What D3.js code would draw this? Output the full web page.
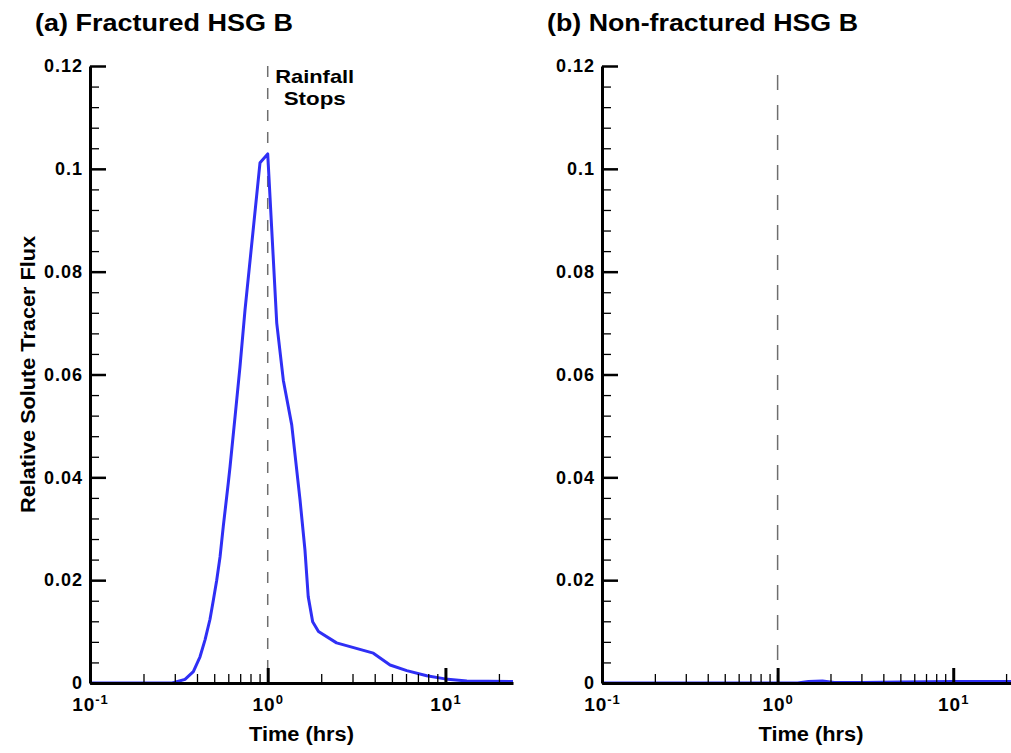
<!DOCTYPE html>
<html>
<head>
<meta charset="utf-8">
<script src="https://cdn.jsdelivr.net/npm/d3@7"></script>
<style>
  body { margin: 0; background: #fff; overflow: hidden; }
  svg text { font-family: "Liberation Sans", Arial, sans-serif; font-weight: bold; fill: #000; }
</style>
</head>
<body>
<div id="chart"></div>
<script>
// values
const panelTitles = ['(a) Fractured HSG B', '(b) Non-fractured HSG B'];

const timeA = [0.1, 0.2, 0.29, 0.3075, 0.3424, 0.3815, 0.4159, 0.4439, 0.4734, 0.4943, 0.5164,
  0.5391, 0.5625, 0.6003, 0.614, 0.655, 0.698, 0.745, 0.905, 1.0, 1.124, 1.224, 1.365, 1.52, 1.62,
  1.69, 1.79, 1.93, 2.44, 3.93, 4.88, 6.06, 7.85, 9.95, 13.2, 24];
const fluxA = [0, 0, 0, 0.00025, 0.0007, 0.0022, 0.0051, 0.0084, 0.0124, 0.0161, 0.0200,
  0.0245, 0.0305, 0.0390, 0.0421, 0.0518, 0.0615, 0.0725, 0.1012, 0.1029, 0.070, 0.0589, 0.0502, 0.0356, 0.0259,
  0.0168, 0.0119, 0.0100, 0.0078, 0.0058, 0.0035, 0.0024, 0.0014, 0.0008, 0.0004, 0.0003];

const timeB = [0.1, 0.5, 1.3, 1.5, 1.8, 2.1, 3, 5, 10, 24];
const fluxB = [0, 0, 0, 0.0003, 0.0004, 0.0001, 0.0001, 0.0002, 0.0003, 0.0003];

const yMajor = [0, 0.02, 0.04, 0.06, 0.08, 0.1, 0.12];
const yTickLabels = ['0', '0.02', '0.04', '0.06', '0.08', '0.1', '0.12'];
const xMajor = [0.1, 1, 10];
const xTickExp = ['-1', '0', '1'];
const xMinor = [0.2, 0.3, 0.4, 0.5, 0.6, 0.7, 0.8, 0.9, 2, 3, 4, 5, 6, 7, 8, 9, 20];
const rainStop = 1;

const W = 1011, H = 753;

const svg = d3.select('#chart').append('svg')
  .attr('width', W)
  .attr('height', H);

// one entry per panel: pixel placement only
const panels = [
  { x0: 90, x1: 513, titleX: 35, titleLen: 258, time: timeA, flux: fluxA, dash: '11,11', dashTop: 66, note: true },
  { x0: 602, x1: 1020, titleX: 547, titleLen: 311, time: timeB, flux: fluxB, dash: '15,15', dashTop: 75, note: false }
];

const yTop = 66, yBot = 683;
const yMinor = d3.range(0, 0.1201, 0.004).filter(v => Math.abs(v / 0.02 - Math.round(v / 0.02)) > 1e-6);

panels.forEach((p, i) => {
  const x = d3.scaleLog().domain([0.1, 24]).range([p.x0, p.x1]);
  const y = d3.scaleLinear().domain([0, 0.12]).range([yBot, yTop]);
  const g = svg.append('g');

  // panel title
  g.append('text')
    .attr('x', p.titleX)
    .attr('y', 31)
    .attr('font-size', 23)
    .attr('textLength', p.titleLen)
    .attr('lengthAdjust', 'spacingAndGlyphs')
    .text(panelTitles[i]);

  // rainfall stops marker
  g.append('line')
    .attr('x1', x(rainStop)).attr('x2', x(rainStop))
    .attr('y1', p.dashTop).attr('y2', yBot)
    .attr('stroke', '#6e6e6e')
    .attr('stroke-width', 1.5)
    .attr('stroke-dasharray', p.dash);

  if (p.note) {
    const cx = x(rainStop) + 47;
    g.append('text').attr('x', cx).attr('y', 83)
      .attr('text-anchor', 'middle').attr('font-size', 19)
      .attr('textLength', 79).attr('lengthAdjust', 'spacingAndGlyphs')
      .text('Rainfall');
    g.append('text').attr('x', cx).attr('y', 105)
      .attr('text-anchor', 'middle').attr('font-size', 19)
      .attr('textLength', 62).attr('lengthAdjust', 'spacingAndGlyphs')
      .text('Stops');
  }

  // tracer curve
  const line = d3.line()
    .x((d, j) => x(p.time[j]))
    .y(d => y(d));
  g.append('path')
    .datum(p.flux)
    .attr('d', line)
    .attr('fill', 'none')
    .attr('stroke', '#2f2ff5')
    .attr('stroke-width', 3)
    .attr('stroke-linejoin', 'round');

  // minor ticks
  g.append('g')
    .attr('transform', `translate(${p.x0},0)`)
    .call(d3.axisLeft(y).tickValues(yMinor).tickSize(-9).tickSizeOuter(0).tickFormat(''))
    .call(a => a.select('.domain').remove())
    .call(a => a.selectAll('.tick line').attr('stroke-width', 1.3));

  g.append('g')
    .attr('transform', `translate(0,${yBot})`)
    .call(d3.axisBottom(x).tickValues(xMinor).tickSize(-9).tickSizeOuter(0).tickFormat(''))
    .call(a => a.select('.domain').remove())
    .call(a => a.selectAll('.tick line').attr('stroke-width', 1.3));

  // y axis
  g.append('g')
    .attr('transform', `translate(${p.x0},0)`)
    .call(d3.axisLeft(y).tickValues(yMajor).tickSize(-16).tickSizeOuter(0).tickPadding(7)
      .tickFormat((d, j) => yTickLabels[j]))
    .call(a => a.select('.domain').attr('stroke-width', 3))
    .call(a => a.selectAll('.tick line').attr('stroke-width', 2.5))
    .call(a => a.selectAll('.tick text')
      .attr('font-size', 18)
      .attr('font-family', null)
      .style('letter-spacing', '1px'));

  // x axis
  const xa = g.append('g')
    .attr('transform', `translate(0,${yBot})`)
    .call(d3.axisBottom(x).tickValues(xMajor).tickSize(-15).tickSizeOuter(0).tickFormat(''))
    .call(a => a.select('.domain').attr('stroke-width', 3))
    .call(a => a.selectAll('.tick line').attr('stroke-width', 3));

  xa.selectAll('.tick text')
    .attr('font-family', null)
    .attr('font-size', 19)
    .attr('y', 28)
    .attr('dy', null)
    .style('letter-spacing', '1px')
    .each(function(d, j) {
      const t = d3.select(this);
      t.append('tspan').text('10');
      t.append('tspan').attr('font-size', 13).attr('dy', -7).text(xTickExp[j]);
    });

  // x axis title
  g.append('text')
    .attr('x', (p.x0 + p.x1) / 2)
    .attr('y', 741)
    .attr('text-anchor', 'middle')
    .attr('font-size', 20)
    .attr('textLength', 105)
    .attr('lengthAdjust', 'spacingAndGlyphs')
    .text('Time (hrs)');
});

// shared y axis title
svg.append('text')
  .attr('transform', `translate(35,${(yTop + yBot) / 2}) rotate(-90)`)
  .attr('text-anchor', 'middle')
  .attr('font-size', 20)
  .attr('textLength', 277)
  .attr('lengthAdjust', 'spacingAndGlyphs')
  .text('Relative Solute Tracer Flux');
</script>
</body>
</html>
